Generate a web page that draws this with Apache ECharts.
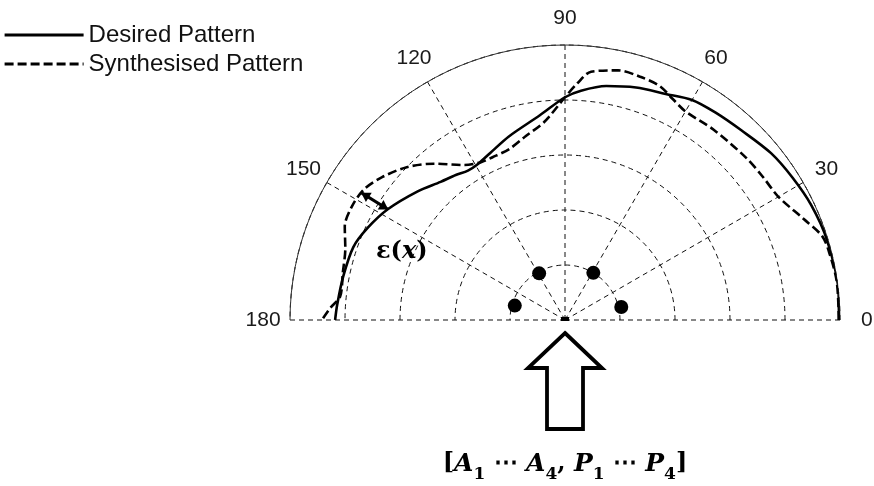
<!DOCTYPE html>
<html>
<head>
<meta charset="utf-8">
<script src="https://cdn.jsdelivr.net/npm/echarts/dist/echarts.min.js"></script>
<style>
  html, body { margin: 0; padding: 0; background: #ffffff; }
  #chart { width: 874px; height: 486px; }
</style>
</head>
<body>
<div id="chart"></div>
<script>
// Angle axis ticks (degrees)
const angleTicks = [0, 30, 60, 90, 120, 150, 180];

// Desired pattern: angle (deg) and normalised radius (outer ring = 5)
const desiredAngles = [0, 6, 17, 25, 32, 39, 47, 54, 60, 66, 73, 80, 86, 90, 97, 107, 114, 119, 123, 127, 132, 139, 148, 155, 161, 169, 176, 180];
const desiredRadii  = [4.98, 5.0, 4.98, 4.94, 4.88, 4.82, 4.71, 4.66, 4.62, 4.5, 4.42, 4.32, 4.18, 4.05, 3.75, 3.49, 3.33, 3.25, 3.24, 3.3, 3.38, 3.56, 3.8, 3.96, 4.07, 4.11, 4.15, 4.18];

// Synthesised pattern
const synthAngles = [0, 8, 14, 18, 23, 30, 36, 42, 52, 60, 64, 68, 73, 78, 84, 87, 90, 96, 102, 108, 114, 118, 123, 130, 136, 142, 147, 152, 157, 162, 168, 174, 177, 180];
const synthRadii  = [4.98, 4.99, 4.96, 4.92, 4.71, 4.48, 4.44, 4.42, 4.39, 4.38, 4.47, 4.59, 4.63, 4.64, 4.54, 4.31, 4.05, 3.62, 3.42, 3.27, 3.24, 3.25, 3.36, 3.71, 4.0, 4.22, 4.36, 4.39, 4.35, 4.2, 4.13, 4.11, 4.27, 4.42];

// Array element positions
const elementAngles = [13, 59, 119, 164];
const elementRadii  = [1.05, 1.0, 0.97, 0.95];

// Error marker between the two patterns
const gapArrowAngle = 148;
const gapArrowRadii = [4.37, 3.79];

// Radius at which the angle labels sit (outer ring = 5)
const angleLabelRadius = 5.49;

const zip = (rs, as) => rs.map((r, i) => [r, as[i]]);

const chart = echarts.init(document.getElementById('chart'), null, { renderer: 'canvas' });

const dashGrid = { type: [5, 4], color: '#111', width: 1 };

chart.setOption({
  animation: false,
  backgroundColor: '#ffffff',
  legend: {
    orient: 'vertical',
    left: 3,
    top: 23,
    padding: 0,
    itemWidth: 79,
    itemHeight: 14,
    itemGap: 5,
    itemStyle: { opacity: 0 },
    lineStyle: { width: 3.2 },
    textStyle: { fontFamily: 'Liberation Sans', fontSize: 24, lineHeight: 24, color: '#111' },
    data: ['Desired Pattern', 'Synthesised Pattern']
  },
  polar: { center: [565, 320], radius: 275 },
  angleAxis: {
    type: 'value',
    min: 0,
    max: 180,
    interval: 30,
    startAngle: 0,
    endAngle: 180,
    clockwise: false,
    axisLine: { lineStyle: { color: '#333', width: 1 } },
    axisTick: { show: false },
    axisLabel: { show: false },
    splitLine: { show: true, lineStyle: dashGrid }
  },
  radiusAxis: {
    type: 'value',
    min: 0,
    max: 5,
    interval: 1,
    axisLine: { show: false },
    axisTick: { show: false },
    axisLabel: { show: false },
    splitLine: { show: true, lineStyle: dashGrid }
  },
  series: [
    {
      name: 'Desired Pattern',
      type: 'line',
      coordinateSystem: 'polar',
      data: zip(desiredRadii, desiredAngles),
      symbol: 'none',
      smooth: 0.3,
      lineStyle: { color: '#000', width: 2.6 },
      itemStyle: { color: '#000' },
      z: 5
    },
    {
      name: 'Synthesised Pattern',
      type: 'line',
      coordinateSystem: 'polar',
      data: zip(synthRadii, synthAngles),
      symbol: 'none',
      smooth: 0.3,
      lineStyle: { color: '#000', width: 2.6, type: [9, 4] },
      itemStyle: { color: '#000' },
      z: 4
    },
    {
      name: 'Elements',
      type: 'scatter',
      coordinateSystem: 'polar',
      data: zip(elementRadii, elementAngles),
      symbol: 'circle',
      symbolSize: 14,
      itemStyle: { color: '#000', opacity: 1 },
      z: 6
    }
  ]
});

// Annotations positioned from the polar scale
const toPx = (r, a) => chart.convertToPixel({ seriesIndex: 0 }, [r, a]);
const origin = toPx(0, 90);
const gA = toPx(gapArrowRadii[0], gapArrowAngle);
const gB = toPx(gapArrowRadii[1], gapArrowAngle);

function arrowHead(tip, from, len, half) {
  const dx = tip[0] - from[0], dy = tip[1] - from[1];
  const d = Math.hypot(dx, dy), ux = dx / d, uy = dy / d;
  const bx = tip[0] - ux * len, by = tip[1] - uy * len;
  return [tip, [bx - uy * half, by + ux * half], [bx + uy * half, by - ux * half]];
}

const ox = origin[0], oy = origin[1];
const tipY = oy + 13;
const upArrow = [
  [ox, tipY], [ox + 37, tipY + 35], [ox + 18, tipY + 35], [ox + 18, tipY + 96],
  [ox - 18, tipY + 96], [ox - 18, tipY + 35], [ox - 37, tipY + 35]
];

// Angle labels, centred just outside the outer ring
const angleLabels = angleTicks.map(a => {
  const p = toPx(angleLabelRadius, a);
  return {
    type: 'text', x: p[0], y: p[1], z: 10,
    style: {
      text: String(a), align: 'center', verticalAlign: 'middle',
      fontFamily: 'Liberation Sans', fontSize: 21, fill: '#1a1a1a'
    }
  };
});

chart.setOption({
  graphic: angleLabels.concat([
    { type: 'rect', shape: { x: ox - 4, y: oy - 3, width: 8, height: 4 }, style: { fill: '#000' }, z: 10 },
    { type: 'line', shape: { x1: gA[0], y1: gA[1], x2: gB[0], y2: gB[1] }, style: { stroke: '#000', lineWidth: 3 }, z: 10 },
    { type: 'polygon', shape: { points: arrowHead(gA, gB, 9, 5.5) }, style: { fill: '#000' }, z: 10 },
    { type: 'polygon', shape: { points: arrowHead(gB, gA, 9, 5.5) }, style: { fill: '#000' }, z: 10 },
    {
      type: 'text', x: 376, y: 252, z: 10,
      style: {
        text: '{b|ε(}{i|x}{b|)}',
        verticalAlign: 'middle',
        rich: {
          b: { fontFamily: 'DejaVu Serif', fontWeight: 'bold', fontSize: 24, fill: '#000' },
          i: { fontFamily: 'DejaVu Serif', fontStyle: 'italic', fontWeight: 'bold', fontSize: 24, fill: '#000' }
        }
      }
    },
    { type: 'polygon', shape: { points: upArrow }, style: { fill: '#fff', stroke: '#000', lineWidth: 3.8, lineJoin: 'miter' }, z: 10 },
    {
      type: 'text', x: ox, y: 464, z: 10,
      style: {
        text: '{b|[}{v|A}{s|1}{b| ⋯ }{v|A}{s|4}{b|, }{v|P}{s|1}{b| ⋯ }{v|P}{s|4}{b|]}',
        align: 'center',
        verticalAlign: 'middle',
        rich: {
          b: { fontFamily: 'DejaVu Serif', fontWeight: 'bold', fontSize: 24, fill: '#000', lineHeight: 38, verticalAlign: 'middle' },
          v: { fontFamily: 'DejaVu Serif', fontStyle: 'italic', fontWeight: 'bold', fontSize: 25, fill: '#000', lineHeight: 38, verticalAlign: 'middle' },
          s: { fontFamily: 'DejaVu Serif', fontWeight: 'bold', fontSize: 17, fill: '#000', lineHeight: 38, verticalAlign: 'bottom' }
        }
      }
    }
  ])
});
</script>
</body>
</html>
